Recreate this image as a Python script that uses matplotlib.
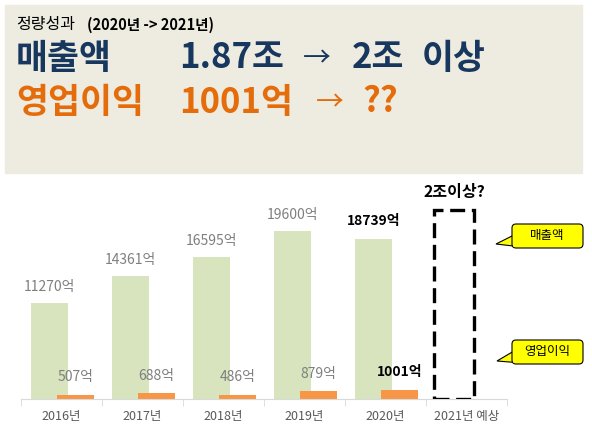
import matplotlib
matplotlib.use("Agg")
import matplotlib.pyplot as plt
import numpy as np
from matplotlib.patches import FancyBboxPatch, Polygon, Rectangle

plt.rcParams['font.family'] = ['Noto Sans CJK KR', 'DejaVu Sans']

# data
years = ['2016년', '2017년', '2018년', '2019년', '2020년', '2021년 예상']
sales = [11270, 14361, 16595, 19600, 18739]      # 매출액 (억)
profit = [507, 688, 486, 879, 1001]              # 영업이익 (억)
forecast = 22100                                 # 2021 dashed box (2조 이상?)

navy = '#17375E'
orange_txt = '#E46C0A'
green = '#D7E4BD'
orange = '#F79646'
gray = '#7F7F7F'

W, H = 592, 438
fig = plt.figure(figsize=(W / 100, H / 100), dpi=100)

# chart
ax = fig.add_axes([21 / W, 1 - 399 / H, 486 / W, 214 / H])
ax.patch.set_alpha(0)
x = np.arange(len(years))
n = len(sales)
gx = x[:n] - 0.148
ox = x[:n] + 0.173
ax.bar(gx, sales, width=0.457, color=green, zorder=2)
ax.bar(ox, profit, width=0.457, color=orange, zorder=2)
ax.bar(x[n] - 0.154, forecast, width=0.49, fill=False, edgecolor='black',
       linewidth=2.4, linestyle=(0, (4.5, 2)), zorder=3)

for i in range(n):
    last = (i == n - 1)
    kw = dict(fontsize=10, ha='center', va='center', textcoords='offset points')
    if last:
        kw.update(color='black', fontweight='bold')
        off = 13
    else:
        kw.update(color=gray)
        off = 11.5
    ax.annotate(f'{sales[i]}억', (gx[i], sales[i]), xytext=(0, off), **kw)
    ax.annotate(f'{profit[i]}억', (ox[i], profit[i]), xytext=(0, off + 1 if not last else off), **kw)

ax.annotate('2조이상?', (x[n] - 0.154, forecast), xytext=(0, 12.5), textcoords='offset points',
            ha='center', va='center', fontsize=11.5, fontweight='bold', color='black')

ax.set_xlim(-0.5, len(years) - 0.5)
ax.set_ylim(0, 25000)
ax.set_yticks([])
for s in ['left', 'right', 'top']:
    ax.spines[s].set_visible(False)
ax.spines['bottom'].set_color('#D9D9D9')
ax.set_xticks(x)
ax.set_xticklabels(years, fontsize=9, color='#595959')
ax.tick_params(axis='x', which='major', length=0, pad=8)
ax.set_xticks(np.arange(-0.5, len(years)), minor=True)
ax.tick_params(axis='x', which='minor', length=5, color='#D9D9D9')

# overlay in pixel coords
ov = fig.add_axes([0, 0, 1, 1])
ov.set_xlim(0, W)
ov.set_ylim(H, 0)
ov.axis('off')

ov.add_patch(Rectangle((5, 5), 577, 168, color='#EEECE1', zorder=0))
ov.text(16, 25, '정량성과', fontsize=11.5, va='center', ha='left')
ov.text(87, 25, '(2020년 -> 2021년)', fontsize=10.5, fontweight='bold', va='center', ha='left')

big = dict(fontsize=25, fontweight='heavy', va='center', ha='left')
ov.text(16, 58, '매출액', color=navy, **big)
ov.text(179, 58, '1.87조', color=navy, **big)
ov.text(303, 58, '→', color=navy, fontsize=20, va='center', ha='left')
ov.text(352, 58, '2조', color=navy, **big)
ov.text(422, 58, '이상', color=navy, **big)
ov.text(16, 102, '영업이익', color=orange_txt, **big)
ov.text(179, 102, '1001억', color=orange_txt, **big)
ov.text(316, 102, '→', color=orange_txt, fontsize=20, va='center', ha='left')
ov.text(362, 102, '??', color=orange_txt, **big)


def callout(y0, tip, label):
    tail = [(514, y0 + 11), (522, y0 + 23), tip]
    ov.add_patch(Polygon(tail, closed=True, fc='#FFFF00', ec='black', lw=0.8, zorder=4))
    ov.add_patch(FancyBboxPatch((512, y0), 71, 24, boxstyle='round,pad=0,rounding_size=4',
                                fc='#FFFF00', ec='black', lw=0.8, zorder=5))
    ov.add_patch(Polygon([(514.5, y0 + 12), (521, y0 + 22.5), (513, y0 + 22.5)], closed=True,
                         fc='#FFFF00', ec='none', zorder=6))
    ov.text(547.5, y0 + 12, label, fontsize=9, ha='center', va='center', zorder=7)


callout(224, (496, 244), '매출액')
callout(340, (497, 361), '영업이익')

fig.savefig('out.png', dpi=100)
